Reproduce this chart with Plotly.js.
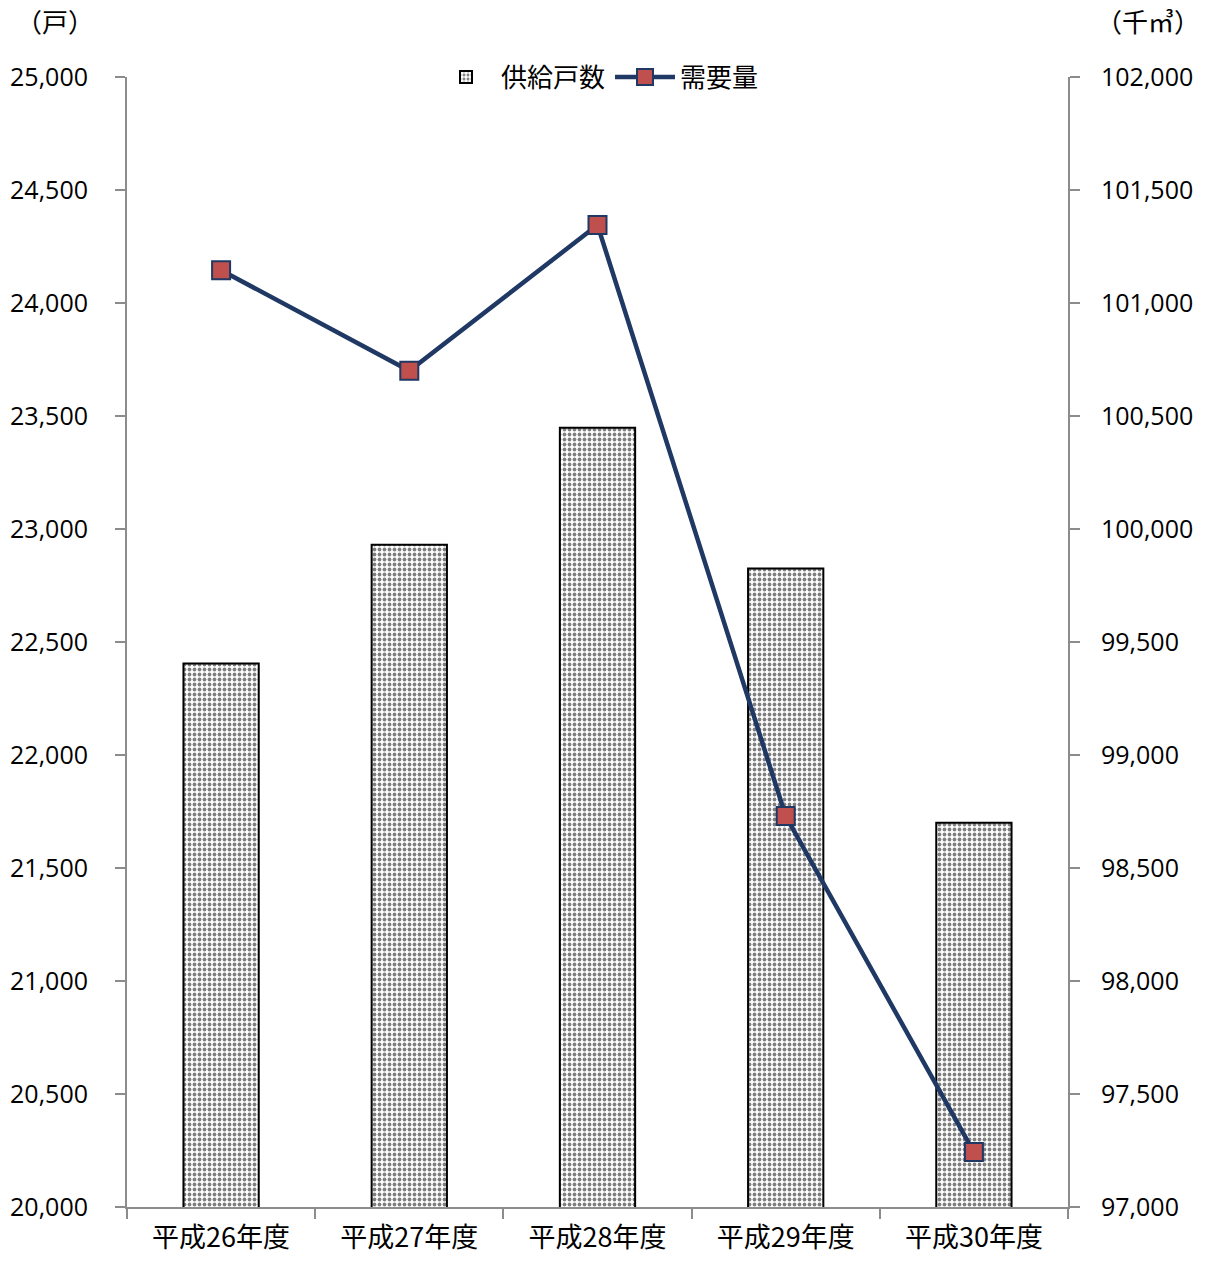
<!DOCTYPE html>
<html><head><meta charset="utf-8">
<script src="https://cdn.plot.ly/plotly-3.0.1.min.js"></script>
<style>body{margin:0;background:#fff}#c{width:1205px;height:1262px}</style>
</head><body><div id="c"></div>
<script>
const categories = ["平成26年度","平成27年度","平成28年度","平成29年度","平成30年度"];
const supplyHouseholds = [22405, 22930, 23448, 22825, 21700];
const demandVolume = [101145, 100700, 101345, 98730, 97243];
const leftTicks = [20000,20500,21000,21500,22000,22500,23000,23500,24000,24500,25000];
const rightTicks = [97000,97500,98000,98500,99000,99500,100000,100500,101000,101500,102000];
const fmt = v => v.toLocaleString('en-US');

const cjk = '"Noto Sans CJK JP", "Noto Sans", sans-serif';
const num = '"Open Sans", "Noto Sans", sans-serif';

const traces = [
  {type:'bar', name:'供給戸数', x:categories, y:supplyHouseholds, width:0.4,
   marker:{color:'#ffffff', line:{color:'#000000', width:2},
     pattern:{shape:'.', fgcolor:'#000000', bgcolor:'#ffffff', size:5, solidity:0.45, fillmode:'overlay'}},
   yaxis:'y'},
  {type:'scatter', mode:'lines+markers', name:'需要量', x:categories, y:demandVolume,
   line:{color:'#1F3864', width:4.5},
   marker:{symbol:'square', size:18, color:'#C0504D', line:{color:'#1F3864', width:2}},
   yaxis:'y2'}
];

const layout = {
  width:1205, height:1262,
  margin:{l:127, r:137, t:77, b:55},
  paper_bgcolor:'#fff', plot_bgcolor:'#fff',
  showlegend:true,
  legend:{orientation:'h', x:0.5, xanchor:'center', y:1.0, yanchor:'middle', itemwidth:60,
    font:{family:cjk, size:26, color:'#000'}, bgcolor:'rgba(255,255,255,0)', traceorder:'normal'},
  xaxis:{type:'category', showline:true, linecolor:'#8c8c8c', linewidth:2,
    ticks:'outside', tickson:'boundaries', ticklen:10, tickcolor:'#8c8c8c', tickwidth:2,
    ticklabelstandoff:6,
    tickfont:{family:cjk, size:27, color:'#000'}, showgrid:false, zeroline:false},
  yaxis:{range:[20000,25000], tickvals:leftTicks, ticktext:leftTicks.map(fmt),
    showline:true, linecolor:'#8c8c8c', linewidth:2, ticks:'outside', ticklen:10,
    tickcolor:'#8c8c8c', tickwidth:2, showgrid:false, zeroline:false, ticklabelstandoff:22,
    tickfont:{family:num, size:25, color:'#000'}},
  yaxis2:{range:[97000,102000], overlaying:'y', side:'right', tickvals:rightTicks, ticktext:rightTicks.map(fmt),
    showline:true, linecolor:'#8c8c8c', linewidth:2, ticks:'outside', ticklen:10,
    tickcolor:'#8c8c8c', tickwidth:2, showgrid:false, zeroline:false, ticklabelstandoff:16,
    tickfont:{family:num, size:25, color:'#000'}},
  annotations:[
    {xref:'paper', yref:'paper', x:-0.076, y:1.0, yshift:57, xanchor:'center', yanchor:'middle', showarrow:false,
     text:'（戸）', font:{family:cjk, size:26, color:'#000'}},
    {xref:'paper', yref:'paper', x:1.085, y:1.0, yshift:57, xanchor:'center', yanchor:'middle', showarrow:false,
     text:'（千㎥）', font:{family:cjk, size:26, color:'#000'}}
  ]
};
Plotly.newPlot('c', traces, layout, {displayModeBar:false, staticPlot:true});
</script></body></html>
